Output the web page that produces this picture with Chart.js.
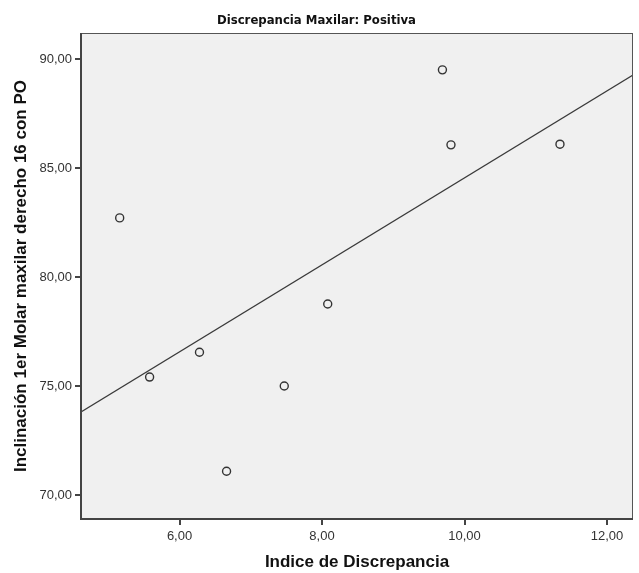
<!DOCTYPE html>
<html>
<head>
<meta charset="utf-8">
<script src="https://cdn.jsdelivr.net/npm/chart.js@4/dist/chart.umd.min.js"></script>
<style>
  html, body { margin: 0; padding: 0; background: #fff; }
  #wrap { width: 639px; height: 573px; }
</style>
</head>
<body>
<div id="wrap"><canvas id="scatter" width="639" height="573"></canvas></div>
<script>
// Indice de Discrepancia vs inclinación del 16
const indice = [5.16, 5.58, 6.28, 6.66, 7.47, 8.08, 9.69, 9.81, 11.34];
const inclinacion = [82.71, 75.41, 76.55, 71.09, 75.00, 78.76, 89.50, 86.06, 86.09];
const xTicks = [6, 8, 10, 12];
const yTicks = [70, 75, 80, 85, 90];
const xRange = [4.617, 12.365];
const yRange = [68.9, 91.19];

// least squares fit line across the whole x range
const n = indice.length;
const mx = indice.reduce((a, b) => a + b, 0) / n;
const my = inclinacion.reduce((a, b) => a + b, 0) / n;
let sxy = 0, sxx = 0;
for (let i = 0; i < n; i++) {
    sxy += (indice[i] - mx) * (inclinacion[i] - my);
    sxx += (indice[i] - mx) * (indice[i] - mx);
}
const slope = sxy / sxx;
const fitLine = xRange.map(x => ({ x: x, y: my + slope * (x - mx) }));

const fmt = v => v.toFixed(2).replace('.', ',');

// grey plot background and the frame round it
const plotFrame = {
    id: 'plotFrame',
    beforeDraw(chart) {
        const { ctx, chartArea: a } = chart;
        ctx.save();
        ctx.fillStyle = '#f0f0f0';
        ctx.fillRect(a.left, a.top, a.right - a.left, a.bottom - a.top);
        ctx.restore();
    },
    afterDraw(chart) {
        const { ctx, chartArea: a } = chart;
        ctx.save();
        ctx.strokeStyle = '#555';
        ctx.lineWidth = 1;
        ctx.strokeRect(a.left + 0.5, a.top + 0.5, a.right - a.left - 1, a.bottom - a.top - 1);
        ctx.strokeStyle = '#444';
        ctx.lineWidth = 2;
        ctx.beginPath();
        ctx.moveTo(a.left, a.top);
        ctx.lineTo(a.left, a.bottom);
        ctx.lineTo(a.right, a.bottom);
        ctx.stroke();
        ctx.restore();
    }
};

const tickFont = { family: 'Liberation Sans, Arial', size: 13 };
const axisTitleFont = { family: 'Liberation Sans, Arial', size: 17, weight: 'bold' };

new Chart(document.getElementById('scatter').getContext('2d'), {
    type: 'scatter',
    data: {
        datasets: [{
            data: indice.map((x, i) => ({ x: x, y: inclinacion[i] })),
            pointRadius: 4,
            pointHoverRadius: 4,
            pointBorderWidth: 1.4,
            pointBorderColor: '#333',
            pointBackgroundColor: 'rgba(0,0,0,0)'
        }, {
            type: 'line',
            data: fitLine,
            borderColor: '#3a3a3a',
            borderWidth: 1.3,
            pointRadius: 0,
            fill: false
        }]
    },
    options: {
        responsive: false,
        animation: false,
        layout: { padding: { left: 0, right: 6, top: 0, bottom: 0 } },
        plugins: {
            legend: { display: false },
            tooltip: { enabled: false },
            title: {
                display: true,
                text: 'Discrepancia Maxilar: Positiva',
                color: '#111',
                font: { family: 'DejaVu Sans Condensed, Liberation Sans, Arial', size: 13, weight: 'bold' },
                padding: { top: 12.5, bottom: 4.9 },
                align: 'center'
            }
        },
        scales: {
            x: {
                type: 'linear',
                min: xRange[0],
                max: xRange[1],
                afterBuildTicks: s => { s.ticks = xTicks.map(v => ({ value: v })); },
                afterFit: s => { s.height = 54; },
                ticks: { callback: fmt, color: '#333', font: tickFont, padding: 4, maxRotation: 0 },
                grid: { display: true, drawOnChartArea: false, drawTicks: true, tickLength: 6, color: '#444', lineWidth: 2 },
                border: { display: false },
                title: { display: true, text: 'Indice de Discrepancia', color: '#111', font: axisTitleFont, padding: { top: 0, bottom: 0 } }
            },
            y: {
                type: 'linear',
                min: yRange[0],
                max: yRange[1],
                afterBuildTicks: s => { s.ticks = yTicks.map(v => ({ value: v })); },
                afterFit: s => { s.width = 81; },
                ticks: { callback: fmt, color: '#333', font: tickFont, padding: 3 },
                grid: { display: true, drawOnChartArea: false, drawTicks: true, tickLength: 6, color: '#444', lineWidth: 2 },
                border: { display: false },
                title: { display: true, text: 'Inclinación 1er Molar maxilar derecho 16 con PO', color: '#111', font: axisTitleFont, padding: { top: 11, bottom: 0 } }
            }
        }
    },
    plugins: [plotFrame]
});
</script>
</body>
</html>
